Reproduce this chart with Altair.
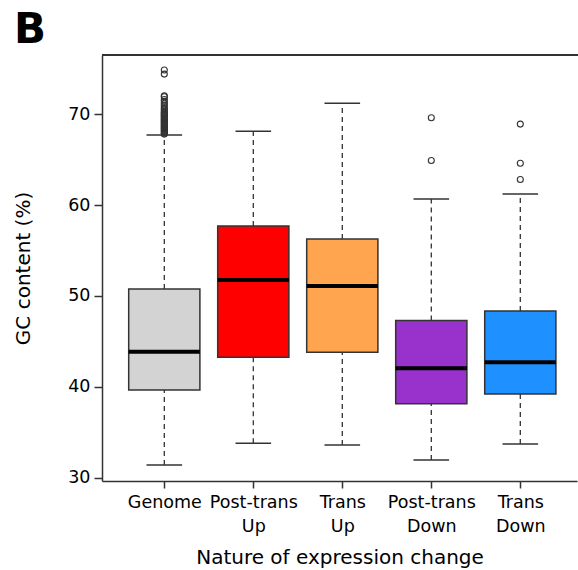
import json
import altair as alt
import pandas as pd

groups = ["Genome", "Post-trans Up", "Trans Up", "Post-trans Down", "Trans Down"]
label_lines = [["Genome"], ["Post-trans", "Up"], ["Trans", "Up"], ["Post-trans", "Down"], ["Trans", "Down"]]
lower = [31.4, 33.8, 33.6, 31.95, 33.7]
q1 = [39.65, 43.25, 43.8, 38.15, 39.2]
median = [43.85, 51.75, 51.1, 42.05, 42.7]
q3 = [50.75, 57.7, 56.25, 47.3, 48.35]
upper = [67.7, 68.1, 71.2, 60.65, 61.2]
colors = ["#D3D3D3", "#FF0000", "#FFA54F", "#9932CC", "#1E90FF"]

out_group = (["Genome"] * 37) + ["Post-trans Down"] * 2 + ["Trans Down"] * 3
out_value = [67.8, 67.9, 68.0, 68.1, 68.2, 68.3, 68.4, 68.5, 68.6, 68.7,
             68.8, 68.9, 69.0, 69.1, 69.2, 69.3, 69.4, 69.5, 69.6, 69.7,
             69.8, 69.9, 70.0, 70.1, 70.2, 70.3, 70.5, 70.6, 70.8, 71.0,
             71.2, 71.4, 71.6, 71.9, 72.0, 74.4, 74.85,
             69.6, 64.9,
             68.9, 64.6, 62.8]

pos = list(range(1, len(groups) + 1))
df = pd.DataFrame({"group": groups, "pos": pos, "lower": lower, "q1": q1,
                   "median": median, "q3": q3, "upper": upper, "color": colors})
out_df = pd.DataFrame({"group": out_group, "value": out_value})
out_df["pos"] = out_df["group"].map({g: p for g, p in zip(groups, pos)})

FONT = "DejaVu Sans"
DARK = "#333333"
xscale = alt.Scale(domain=[0.3, 5.637], nice=False, zero=False)
yscale = alt.Scale(domain=[29.64, 76.5], nice=False, zero=False)

xaxis = alt.Axis(values=pos, labelExpr=json.dumps(label_lines) + "[datum.value - 1]",
                 title="Nature of expression change", grid=False, tickSize=7,
                 tickColor=DARK, domainColor=DARK, domainWidth=1.5, tickWidth=1.5,
                 labelFont=FONT, labelFontSize=17.5, labelColor="black", labelPadding=5,
                 labelLineHeight=24, labelAngle=0, labelFlush=False, labelOverlap=False,
                 titleFont=FONT, titleFontSize=20, titleFontWeight="normal",
                 titleColor="black", titlePadding=13)
yaxis = alt.Axis(values=[30, 40, 50, 60, 70], title="GC content (%)", grid=False,
                 tickSize=8, tickColor=DARK, domainColor=DARK, domainWidth=1.5,
                 tickWidth=1.5, labelFont=FONT, labelFontSize=17.5, labelColor="black",
                 labelPadding=4, titleFont=FONT, titleFontSize=20,
                 titleFontWeight="normal", titleColor="black", titlePadding=34)


def X(f):
    return alt.X(f, type="quantitative", scale=xscale, axis=xaxis, title="Nature of expression change")


def Y(f):
    return alt.Y(f, type="quantitative", scale=yscale, axis=yaxis, title="GC content (%)")


base = alt.Chart(df).transform_calculate(
    bl="datum.pos - 0.4", br="datum.pos + 0.4",
    cl="datum.pos - 0.2", cr="datum.pos + 0.2")

whisk_hi = base.mark_rule(color=DARK, strokeWidth=1.3, strokeDash=[5, 4]).encode(
    x=X("pos"), y=Y("q3"), y2="upper")
whisk_lo = base.mark_rule(color=DARK, strokeWidth=1.3, strokeDash=[5, 4]).encode(
    x=X("pos"), y=Y("lower"), y2="q1")
cap_hi = base.mark_rule(color=DARK, strokeWidth=1.5).encode(
    x=X("cl"), x2="cr", y=Y("upper"))
cap_lo = base.mark_rule(color=DARK, strokeWidth=1.5).encode(
    x=X("cl"), x2="cr", y=Y("lower"))
boxes = base.mark_rect(stroke=DARK, strokeWidth=1.5).encode(
    x=X("bl"), x2="br", y=Y("q1"), y2="q3",
    color=alt.Color("color:N", scale=None))
meds = base.mark_rule(color="black", strokeWidth=4).encode(
    x=X("bl"), x2="br", y=Y("median"))
outl = alt.Chart(out_df).mark_point(shape="circle", filled=False, size=36,
                                    color=DARK, strokeWidth=1.1, opacity=1).encode(
    x=X("pos"), y=Y("value"))
top = alt.Chart(df).mark_rule(color=DARK, strokeWidth=1.5).encode(
    x=alt.value(0), x2=alt.value(480), y=alt.value(0))
panel = alt.Chart(pd.DataFrame({"t": ["B"]})).mark_text(
    font=FONT, fontSize=42, fontWeight="bold", align="left", baseline="alphabetic",
    color="black").encode(text="t:N", x=alt.value(-88), y=alt.value(-12))

chart = alt.layer(whisk_hi, whisk_lo, cap_hi, cap_lo, boxes, meds, outl, top, panel).properties(
    width=475, height=426,
    autosize=alt.AutoSizeParams(type="none"),
    padding={"left": 102, "top": 55, "right": 1, "bottom": 89},
    background="white",
).configure_view(stroke=None)

chart.save("out.html", embed_options={"renderer": "svg", "actions": False})
